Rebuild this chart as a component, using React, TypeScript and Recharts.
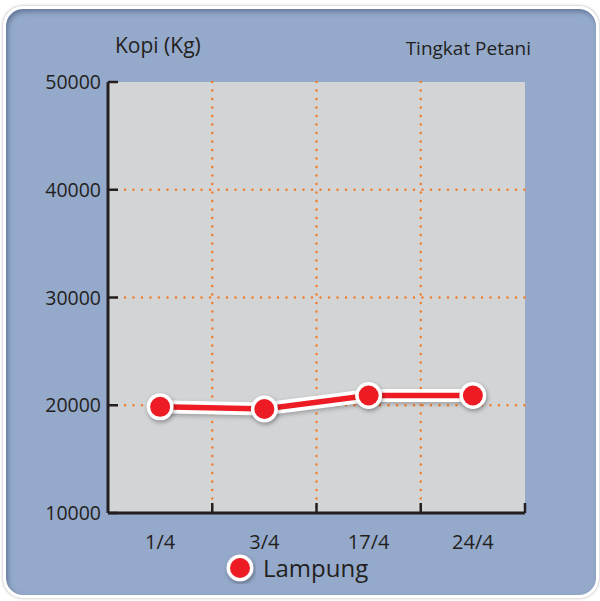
import React from 'react';
import { LineChart, Line, XAxis, YAxis, CartesianGrid } from 'recharts';

const categories = ['1/4', '3/4', '17/4', '24/4'];
const lampung = [19850, 19650, 20900, 20900];
const yTicks = [10000, 20000, 30000, 40000, 50000];
const gridY = [20000, 30000, 40000];
const gridX = [1, 2, 3];
const xTicks = [0.5, 1, 1.5, 2, 2.5, 3, 3.5, 4];

const FONT = '"Open Sans", "Noto Sans", sans-serif';
const INK = '#231f20';
const RED = '#ed1c24';
const ORANGE = '#f47b2a';

const data = categories.map((c, i) => ({ x: i + 0.5, name: c, value: lampung[i] }));

const YTick = ({ x, y, payload }: any) => (
  <g>
    <line x1={x} y1={y} x2={x + 10} y2={y} stroke={INK} strokeWidth={2.5} />
    <text x={x - 7} y={y} dy={7} textAnchor="end" fontSize={19.5} fontFamily={FONT} fill={INK}>
      {payload.value}
    </text>
  </g>
);

const XTick = ({ x, y, payload }: any) => {
  const v = payload.value;
  if (Number.isInteger(v)) {
    if (v === 0) return null;
    return <line x1={x} y1={y} x2={x} y2={y - 10} stroke={INK} strokeWidth={2.5} />;
  }
  return (
    <text x={x} y={y + 36} textAnchor="middle" fontSize={20} fontFamily={FONT} fill={INK}>
      {categories[Math.floor(v)]}
    </text>
  );
};

const Dot = ({ cx, cy, index }: any) => (
  <g key={`dot-${index}`}>
    <circle cx={cx} cy={cy} r={13.5} fill="#fff" style={{ filter: 'drop-shadow(1px 2px 2px rgba(0,0,0,0.35))' }} />
    <circle cx={cx} cy={cy} r={10} fill={RED} />
  </g>
);

export default function App() {
  return (
    <div style={{ position: 'absolute', left: 0, top: 0, width: 600, height: 601, background: '#fff', overflow: 'hidden' }}>
      <div
        style={{
          position: 'absolute',
          left: 3,
          top: 6,
          width: 596,
          height: 592,
          boxSizing: 'border-box',
          background: '#95aacb',
          border: '3px solid #fff',
          borderRadius: 20,
          boxShadow: '0 0 3px rgba(0,0,0,0.35), inset 2px 3px 5px rgba(40,60,90,0.45)',
        }}
      />
      <div style={{ position: 'absolute', left: 115, top: 31, fontFamily: FONT, fontSize: 21, color: INK }}>Kopi (Kg)</div>
      <div style={{ position: 'absolute', right: 69, top: 35, fontFamily: FONT, fontSize: 19, color: INK }}>Tingkat Petani</div>
      <div style={{ position: 'absolute', left: 0, top: 0 }}>
        <LineChart width={600} height={601} data={data} margin={{ top: 82, right: 75, bottom: 48, left: 0 }}>
          <CartesianGrid
            fill="#d3d4d6"
            fillOpacity={1}
            stroke={ORANGE}
            strokeWidth={2.5}
            strokeDasharray="0 8.5"
            strokeLinecap="round"
            horizontalValues={gridY}
            verticalValues={gridX}
          />
          <XAxis
            dataKey="x"
            type="number"
            domain={[0, 4]}
            ticks={xTicks}
            interval={0}
            height={40}
            tickSize={0}
            tickMargin={0}
            tickLine={false}
            axisLine={{ stroke: INK, strokeWidth: 3 }}
            tick={<XTick />}
          />
          <YAxis
            type="number"
            domain={[10000, 50000]}
            ticks={yTicks}
            interval={0}
            width={108}
            tickSize={0}
            tickMargin={0}
            tickLine={false}
            axisLine={{ stroke: INK, strokeWidth: 3 }}
            tick={<YTick />}
          />
          <Line
            type="linear"
            dataKey="value"
            stroke="#fff"
            strokeWidth={13}
            dot={false}
            activeDot={false}
            isAnimationActive={false}
            style={{ filter: 'drop-shadow(1px 2px 2px rgba(0,0,0,0.25))' }}
          />
          <Line
            type="linear"
            dataKey="value"
            name="Lampung"
            stroke={RED}
            strokeWidth={5.5}
            dot={<Dot />}
            activeDot={false}
            isAnimationActive={false}
          />
        </LineChart>
      </div>
      <div style={{ position: 'absolute', left: 224, top: 552, display: 'flex', alignItems: 'center' }}>
        <svg width={32} height={32}>
          <circle cx={16} cy={16} r={13.5} fill="#fff" style={{ filter: 'drop-shadow(1px 2px 2px rgba(0,0,0,0.35))' }} />
          <circle cx={16} cy={16} r={10} fill={RED} />
        </svg>
        <span style={{ marginLeft: 7, fontFamily: FONT, fontSize: 24, color: INK, lineHeight: '32px' }}>Lampung</span>
      </div>
    </div>
  );
}
